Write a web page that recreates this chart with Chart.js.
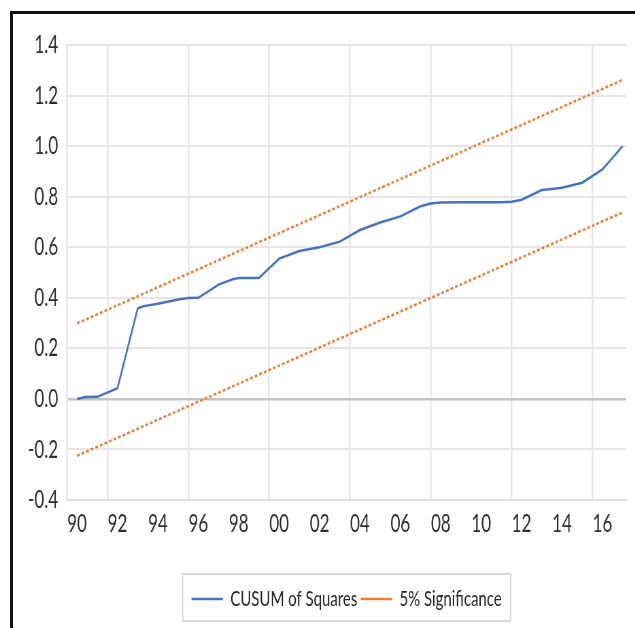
<!DOCTYPE html>
<html>
<head>
<meta charset="utf-8">
<script src="https://cdn.jsdelivr.net/npm/chart.js@4.4.1/dist/chart.umd.min.js"></script>
<style>
  html, body { margin: 0; padding: 0; background: #fff; overflow: hidden; }
  #frame { position: absolute; left: 10px; top: 11px; width: 1000px; height: 1000px; border: 3px solid #111; }
  #wrap { position: absolute; left: 0; top: 0; width: 934px; height: 628px; transform: scaleX(0.68); transform-origin: 0 0; }
</style>
</head>
<body>
<div id="frame"></div>
<div id="wrap"><canvas id="chart" width="934" height="628"></canvas></div>
<script>
// CUSUM of squares test
const years = [1990, 1990.4, 1991, 1992, 1993, 1993.3, 1994, 1995, 1995.5, 1996, 1997, 1997.7, 1998, 1999, 2000, 2001, 2002, 2003, 2004, 2005, 2006, 2007, 2007.5, 2008, 2009, 2010, 2011, 2011.5, 2012, 2013, 2013.5, 2014, 2015, 2016, 2017];
const cusum = [0.0, 0.007, 0.008, 0.042, 0.358, 0.367, 0.376, 0.393, 0.399, 0.400, 0.452, 0.473, 0.478, 0.478, 0.555, 0.585, 0.600, 0.622, 0.668, 0.698, 0.722, 0.762, 0.773, 0.777, 0.778, 0.778, 0.778, 0.780, 0.788, 0.826, 0.830, 0.835, 0.855, 0.908, 1.0];
const boundYears = [1990, 2017];
const upperBound = [0.299, 1.262];
const lowerBound = [-0.225, 0.738];
const labelYears = [1990, 1992, 1994, 1996, 1998, 2000, 2002, 2004, 2006, 2008, 2010, 2012, 2014, 2016];
const gridYears = [1991.5, 1995.5, 1999.5, 2003.5, 2007.5, 2011.5, 2015.5];
const seriesNames = ['CUSUM of Squares', '5% Significance'];

function toPoints(xs, ys) {
    return xs.map(function(x, i) { return { x: x, y: ys[i] }; });
}

var legendBox = {
    id: 'legendBox',
    afterDraw: function(chart) {
        var boxes = chart.legend.legendHitBoxes;
        if (!boxes || !boxes.length) return;
        var left = Math.min.apply(null, boxes.map(function(b) { return b.left; }));
        var right = Math.max.apply(null, boxes.map(function(b) { return b.left + b.width; }));
        var ctx = chart.ctx;
        ctx.save();
        ctx.strokeStyle = '#d9d9d9';
        ctx.lineWidth = 2;
        ctx.strokeRect(left - 13, 574, right - left + 26, 47);
        ctx.restore();
    }
};

var ctx = document.getElementById('chart').getContext('2d');
new Chart(ctx, {
    type: 'line',
    data: {
        datasets: [
            {
                label: seriesNames[0],
                data: toPoints(years, cusum),
                borderColor: '#4472c4',
                backgroundColor: 'transparent',
                borderWidth: 2.5,
                pointRadius: 0,
                tension: 0
            },
            {
                label: seriesNames[1],
                data: toPoints(boundYears, upperBound),
                borderColor: '#ed7d31',
                backgroundColor: 'transparent',
                borderWidth: 2.5,
                borderDash: [4, 3],
                pointRadius: 0
            },
            {
                label: '',
                data: toPoints(boundYears, lowerBound),
                borderColor: '#ed7d31',
                backgroundColor: 'transparent',
                borderWidth: 2.5,
                borderDash: [4, 3],
                pointRadius: 0
            }
        ]
    },
    options: {
        responsive: false,
        animation: false,
        devicePixelRatio: 1,
        layout: { padding: { left: 0, right: 13, top: 45, bottom: 8 } },
        plugins: {
            tooltip: { enabled: false },
            legend: {
                position: 'bottom',
                fullSize: false,
                labels: {
                    filter: function(item) { return item.datasetIndex < 2; },
                    font: { family: 'Lato', size: 22 },
                    color: '#262626',
                    boxWidth: 46,
                    boxHeight: 0,
                    padding: 5
                }
            }
        },
        scales: {
            x: {
                type: 'linear',
                min: 1989.5,
                max: 2017.18,
                afterBuildTicks: function(scale) {
                    scale.ticks = labelYears.concat(gridYears).sort(function(a, b) { return a - b; })
                        .map(function(v) { return { value: v }; });
                },
                afterFit: function(scale) { scale.height = 83; },
                grid: {
                    drawTicks: false,
                    lineWidth: 2.5,
                    color: function(c) { return gridYears.indexOf(c.tick.value) >= 0 ? '#e6e6e6' : 'transparent'; }
                },
                border: { display: true, color: '#e0e0e0', width: 2 },
                ticks: {
                    autoSkip: false,
                    maxRotation: 0,
                    padding: 9,
                    color: '#2e2e2e',
                    font: { family: 'Lato', size: 25 },
                    callback: function(v) {
                        if (labelYears.indexOf(v) < 0) return '';
                        return String(v % 100).padStart(2, '0');
                    }
                }
            },
            y: {
                min: -0.4,
                max: 1.4,
                afterFit: function(scale) { scale.width = 98.5; },
                grid: {
                    drawTicks: false,
                    lineWidth: function(c) { return Math.abs(c.tick.value) < 1e-9 ? 2.5 : 2; },
                    color: function(c) { return Math.abs(c.tick.value) < 1e-9 ? '#c4c4c4' : '#e6e6e6'; }
                },
                border: { display: true, color: '#e6e6e6', width: 2.5 },
                ticks: {
                    stepSize: 0.2,
                    padding: 13,
                    color: '#2e2e2e',
                    font: { family: 'Lato', size: 25 },
                    callback: function(v) { return Math.abs(v) < 1e-9 ? '0.0' : Number(v).toFixed(1); }
                }
            }
        }
    },
    plugins: [legendBox]
});
</script>
</body>
</html>
